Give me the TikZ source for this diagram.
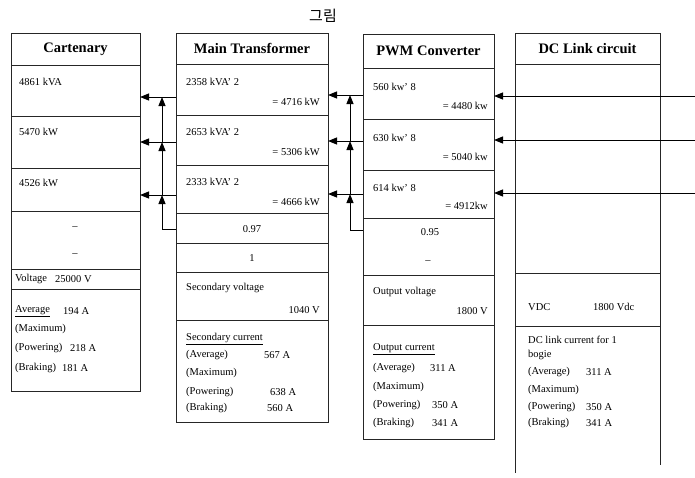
\documentclass[tikz,border=0pt]{standalone}
\usepackage{fontspec}
\setmainfont{Liberation Serif}
\newfontfamily\cjk{Noto Sans CJK KR}
\usetikzlibrary{arrows.meta}
\newcommand{\mycell}[5]{\node[cell,minimum width={(#4-#2)*1pt},minimum height={(#5-#3)*1pt}] (#1) at (#2,#3) {};}
\tikzset{
  cell/.style={draw=black!85, line width=0.7pt, inner sep=0pt, outer sep=0pt, anchor=north west},
  hdr/.style={font=\fontsize{14.5}{16}\selectfont\bfseries, inner sep=0pt},
  tl/.style={font=\fontsize{10.5}{12}\selectfont, inner sep=0pt, anchor=west},
  tr/.style={font=\fontsize{10.5}{12}\selectfont, inner sep=0pt, anchor=east},
  tc/.style={font=\fontsize{10.5}{12}\selectfont, inner sep=0pt, anchor=center},
  arr/.style={-{Triangle[length=9pt,width=7pt]}, line width=1pt},
  ln/.style={line width=1pt},
}
\begin{document}
\begin{tikzpicture}[x=1pt,y=-1pt]
\useasboundingbox (0,0) rectangle (695,477);
% title
\node[font=\cjk\fontsize{15}{17}\selectfont, inner sep=0pt] (title) at (323,16) {그림};
% Column 1: Cartenary
\mycell{a0}{11}{33}{140}{65}
\mycell{a1}{11}{65}{140}{116}
\mycell{a2}{11}{116}{140}{168}
\mycell{a3}{11}{168}{140}{211}
\mycell{a4}{11}{211}{140}{269}
\mycell{a5}{11}{269}{140}{289}
\mycell{a6}{11}{289}{140}{391}
\node[hdr] (ah) at (a0) {Cartenary};
\node[tl] (at1) at (19,82) {4861 kVA};
\node[tl] (at2) at (19,132) {5470 kW};
\node[tl] (at3) at (19,183) {4526 kW};
\node[tc] (at4) at (75,228) {–};
\node[tc] (at5) at (75,255) {–};
\node[tl] (at6) at (15,279) {Voltage};
\node[tl] (at7) at (55,279) {25000 V};
\node[tl] (at8) at (15,311) {\underline{Average}};
\node[tl] (at9) at (63,311) {194 A};
\node[tl] (at10) at (15,329) {(Maximum)};
\node[tl] (at11) at (15,348) {(Powering)};
\node[tl] (at12) at (70,348) {218 A};
\node[tl] (at13) at (15,368) {(Braking)};
\node[tl] (at14) at (62,368) {181 A};
% Column 2: Main Transformer
\mycell{b0}{176}{33}{328}{64}
\mycell{b1}{176}{64}{328}{115}
\mycell{b2}{176}{115}{328}{165}
\mycell{b3}{176}{165}{328}{213}
\mycell{b4}{176}{213}{328}{243}
\mycell{b5}{176}{243}{328}{272}
\mycell{b6}{176}{272}{328}{320}
\mycell{b7}{176}{320}{328}{422}
\node[hdr] (bh) at (b0) {Main Transformer};
\node[tl] (bt1) at (186,82) {2358 kVA’ 2};
\node[tr] (bt2) at (320,102) {= 4716 kW};
\node[tl] (bt3) at (186,132) {2653 kVA’ 2};
\node[tr] (bt4) at (320,152) {= 5306 kW};
\node[tl] (bt5) at (186,182) {2333 kVA’ 2};
\node[tr] (bt6) at (320,202) {= 4666 kW};
\node[tc] (bt7) at (252,229) {0.97};
\node[tc] (bt8) at (252,258) {1};
\node[tl] (bt9) at (186,288) {Secondary voltage};
\node[tr] (bt10) at (320,310) {1040 V};
\node[tl] (bt11) at (186,339) {\underline{Secondary current}};
\node[tl] (bt12) at (186,355) {(Average)};
\node[tl] (bt13) at (264,355) {567 A};
\node[tl] (bt14) at (186,373) {(Maximum)};
\node[tl] (bt15) at (186,392) {(Powering)};
\node[tl] (bt16) at (270,392) {638 A};
\node[tl] (bt17) at (186,408) {(Braking)};
\node[tl] (bt18) at (267,408) {560 A};
% Column 3: PWM Converter
\mycell{c0}{363}{34}{494}{68}
\mycell{c1}{363}{68}{494}{119}
\mycell{c2}{363}{119}{494}{170}
\mycell{c3}{363}{170}{494}{218}
\mycell{c4}{363}{218}{494}{275}
\mycell{c5}{363}{275}{494}{325}
\mycell{c6}{363}{325}{494}{439}
\node[hdr] (ch) at (c0) {PWM Converter};
\node[tl] (ct1) at (373,87) {560 kw’ 8};
\node[tr] (ct2) at (488,106) {= 4480 kw};
\node[tl] (ct3) at (373,138) {630 kw’ 8};
\node[tr] (ct4) at (488,157) {= 5040 kw};
\node[tl] (ct5) at (373,188) {614 kw’ 8};
\node[tr] (ct6) at (488,206) {= 4912kw};
\node[tc] (ct7) at (430,232) {0.95};
\node[tc] (ct8) at (428,262) {–};
\node[tl] (ct9) at (373,292) {Output voltage};
\node[tr] (ct10) at (488,311) {1800 V};
\node[tl] (ct11) at (373,349) {\underline{Output current}};
\node[tl] (ct12) at (373,368) {(Average)};
\node[tl] (ct13) at (430,368) {311 A};
\node[tl] (ct14) at (373,387) {(Maximum)};
\node[tl] (ct15) at (373,405) {(Powering)};
\node[tl] (ct16) at (432,405) {350 A};
\node[tl] (ct17) at (373,423) {(Braking)};
\node[tl] (ct18) at (432,423) {341 A};
% Column 4: DC Link circuit
\mycell{d0}{515}{33}{660}{64}
\mycell{d1}{515}{64}{660}{273}
\mycell{d2}{515}{273}{660}{326}
\coordinate (d3l) at (515,473);
\coordinate (d3r) at (660,465);
\draw[draw=black!85, line width=0.7pt] (d2.south west) -- (d3l);
\draw[draw=black!85, line width=0.7pt] (d2.south east) -- (d3r);
\node[hdr] (dh) at (d0) {DC Link circuit};
\node[tl] (dt1) at (528,307) {VDC};
\node[tl] (dt2) at (593,307) {1800 Vdc};
\node[tl] (dt3) at (528,340) {DC link current for 1};
\node[tl] (dt4) at (528,355) {bogie};
\node[tl] (dt5) at (528,372) {(Average)};
\node[tl] (dt6) at (586,372) {311 A};
\node[tl] (dt7) at (528,390) {(Maximum)};
\node[tl] (dt8) at (528,407) {(Powering)};
\node[tl] (dt9) at (586,407) {350 A};
\node[tl] (dt10) at (528,423) {(Braking)};
\node[tl] (dt11) at (586,423) {341 A};
% connectors: DC link -> PWM
\coordinate (r1) at (695,96);
\coordinate (r2) at (695,140);
\coordinate (r3) at (695,193);
\coordinate (q1) at (494,96);
\coordinate (q2) at (494,140);
\coordinate (q3) at (494,193);
\draw[arr] (r1) -- (q1);
\draw[arr] (r2) -- (q2);
\draw[arr] (r3) -- (q3);
% PWM -> Main Transformer
\coordinate (m1s) at (363,95);
\coordinate (m2s) at (363,141);
\coordinate (m3s) at (363,194);
\coordinate (m1e) at (328,95);
\coordinate (m2e) at (328,141);
\coordinate (m3e) at (328,194);
\coordinate (mv0) at (363,230);
\coordinate (mv1) at (350,230);
\coordinate (mj1) at (350,95);
\coordinate (mj2) at (350,141);
\coordinate (mj3) at (350,194);
\draw[arr] (m1s) -- (m1e);
\draw[arr] (m2s) -- (m2e);
\draw[arr] (m3s) -- (m3e);
\draw[ln] (mv0) -- (mv1);
\draw[arr] (mv1) -- (mj3);
\draw[arr] (mj3) -- (mj2);
\draw[arr] (mj2) -- (mj1);
% Main Transformer -> Cartenary
\coordinate (k1s) at (176,97);
\coordinate (k2s) at (176,142);
\coordinate (k3s) at (176,195);
\coordinate (k1e) at (140,97);
\coordinate (k2e) at (140,142);
\coordinate (k3e) at (140,195);
\coordinate (kv0) at (176,229);
\coordinate (kv1) at (162,229);
\coordinate (kj1) at (162,97);
\coordinate (kj2) at (162,142);
\coordinate (kj3) at (162,195);
\draw[arr] (k1s) -- (k1e);
\draw[arr] (k2s) -- (k2e);
\draw[arr] (k3s) -- (k3e);
\draw[ln] (kv0) -- (kv1);
\draw[arr] (kv1) -- (kj3);
\draw[arr] (kj3) -- (kj2);
\draw[arr] (kj2) -- (kj1);
\end{tikzpicture}
\end{document}
